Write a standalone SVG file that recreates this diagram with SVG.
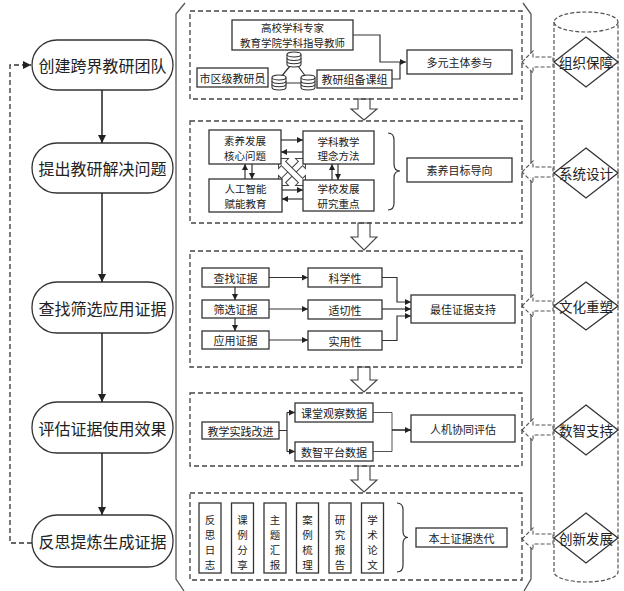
<svg xmlns="http://www.w3.org/2000/svg" xmlns:xlink="http://www.w3.org/1999/xlink" width="624" height="591" viewBox="0 0 624 591">
<style>
text{font-family:"Noto Sans CJK SC","Noto Sans",sans-serif;fill:#222;text-anchor:middle;dominant-baseline:central}
.big{font-size:16px}
.sm{font-size:11px}
.sm2{font-size:10.5px}
.dm{font-size:13.5px}
.box{fill:#fff;stroke:#333;stroke-width:1.3}
.pan{fill:none;stroke:#444;stroke-width:1.3;stroke-dasharray:5,3}
.ln{fill:none;stroke:#333;stroke-width:1.2}
.thin{fill:none;stroke:#555;stroke-width:1}
.flow{fill:none;stroke:#222;stroke-width:1.5}
.hol{fill:#fff;stroke:#444;stroke-width:1.1}
.hold{fill:#fff;stroke:#555;stroke-width:1.1;stroke-dasharray:4,2}
.frame{fill:none;stroke:#555;stroke-width:1.3}
</style>
<defs>
<marker id="ah" viewBox="0 0 10 10" refX="10" refY="5" markerWidth="8" markerHeight="8" markerUnits="userSpaceOnUse" orient="auto"><path d="M0,0L10,5L0,10z" fill="#222"/></marker>
<marker id="as" viewBox="0 0 10 10" refX="10" refY="5" markerWidth="6" markerHeight="6" markerUnits="userSpaceOnUse" orient="auto"><path d="M0,0L10,5L0,10z" fill="#222"/></marker>
<g id="db" fill="#fff" stroke="#333" stroke-width="1.1">
<path d="M0,2.5V12.5A7,2.5 0 0 0 14,12.5V2.5"/>
<ellipse cx="7" cy="2.5" rx="7" ry="2.5"/>
<path d="M0,6A7,2.5 0 0 0 14,6M0,9.3A7,2.5 0 0 0 14,9.3"/>
</g>
<path id="xarr" d="M-19,0L-12,-7V-3H12V-7L19,0L12,7V3H-12V7Z"/>
</defs>

<!-- outer frame -->
<g id="frame">
<polyline class="frame" points="185,3 176,14 176,579 184,591"/>
<polyline class="frame" points="523,3 531,14 531,579 524,591"/>
</g>

<!-- left flow nodes -->
<g id="n1"><rect class="box" x="32" y="40" width="141" height="50" rx="25"/><text class="big" x="102.5" y="65">创建跨界教研团队</text></g>
<g id="n2"><rect class="box" x="32" y="143" width="141" height="50" rx="25"/><text class="big" x="102.5" y="168">提出教研解决问题</text></g>
<g id="n3"><rect class="box" x="32" y="282" width="141" height="51" rx="25"/><text class="big" x="102.5" y="307.5">查找筛选应用证据</text></g>
<g id="n4"><rect class="box" x="32" y="402" width="141" height="51" rx="25"/><text class="big" x="102.5" y="427.5">评估证据使用效果</text></g>
<g id="n5"><rect class="box" x="32" y="515" width="141" height="52" rx="25"/><text class="big" x="102.5" y="541">反思提炼生成证据</text></g>

<g id="connectors">
<line class="flow" x1="102" y1="90" x2="102" y2="143" marker-end="url(#ah)"/>
<line class="flow" x1="102" y1="193" x2="102" y2="282" marker-end="url(#ah)"/>
<line class="flow" x1="102" y1="333" x2="102" y2="402" marker-end="url(#ah)"/>
<line class="flow" x1="102" y1="453" x2="102" y2="515" marker-end="url(#ah)"/>
<path d="M32,543H10V65H31" fill="none" stroke="#333" stroke-width="1.3" stroke-dasharray="5,3" marker-end="url(#ah)"/>
<polygon class="hol" points="358,99 370,99 370,109 377,109 364,120 351,109 358,109"/>
<polygon class="hol" points="358,223 370,223 370,237 377,237 364,250 351,237 358,237"/>
<polygon class="hol" points="358,367 370,367 370,380 377,380 364,392 351,380 358,380"/>
<polygon class="hol" points="358,466 370,466 370,480 377,480 364,492 351,480 358,480"/>
<polygon class="hold" points="522,62 533,51 533,57 553,57 553,67 533,67 533,73"/>
<polygon class="hold" points="522,172 533,161 533,167 553,167 553,177 533,177 533,183"/>
<polygon class="hold" points="522,306 533,295 533,301 553,301 553,311 533,311 533,317"/>
<polygon class="hold" points="522,430 533,419 533,425 553,425 553,435 533,435 533,441"/>
<polygon class="hold" points="522,539 533,528 533,534 553,534 553,544 533,544 533,550"/>
</g>

<!-- panel 1 -->
<g id="p1">
<rect class="pan" x="190" y="11" width="332" height="88"/>
<rect class="box" x="232" y="20" width="121" height="30"/>
<text class="sm2" x="292.5" y="27.5">高校学科专家</text>
<text class="sm2" x="292.5" y="42.5">教育学院学科指导教师</text>
<rect class="box" x="197" y="68" width="71" height="19"/>
<text class="sm" x="232.5" y="77.5">市区级教研员</text>
<rect class="box" x="317" y="70" width="75" height="18"/>
<text class="sm" x="354.5" y="79">教研组备课组</text>
<rect class="box" x="407" y="50" width="105" height="24"/>
<text class="sm" x="459.5" y="62">多元主体参与</text>
<path class="ln" d="M353,35H380V62H406" marker-end="url(#as)"/>
<path class="ln" d="M392,79H400V62"/>
<path class="ln" d="M290,66L281,77M298,66L306,77M286,83H301"/>
<use xlink:href="#db" x="287" y="52"/>
<use xlink:href="#db" x="272" y="75"/>
<use xlink:href="#db" x="301" y="75"/>
</g>

<!-- panel 2 -->
<g id="p2">
<rect class="pan" x="190" y="121" width="332" height="102"/>
<use xlink:href="#xarr" transform="translate(292,172) rotate(-45)" fill="#fff" stroke="#444" stroke-width="1"/>
<use xlink:href="#xarr" transform="translate(292,172) rotate(45)" fill="#fff" stroke="#444" stroke-width="1"/>
<rect class="box" x="209" y="130" width="72" height="34"/>
<text class="sm2" x="245" y="140.5">素养发展</text><text class="sm2" x="245" y="155">核心问题</text>
<rect class="box" x="303" y="131" width="71" height="33"/>
<text class="sm2" x="338.5" y="141">学科教学</text><text class="sm2" x="338.5" y="155.5">理念方法</text>
<rect class="box" x="209" y="179" width="73" height="33"/>
<text class="sm2" x="245.5" y="188.5">人工智能</text><text class="sm2" x="245.5" y="203">赋能教育</text>
<rect class="box" x="303" y="180" width="71" height="31"/>
<text class="sm2" x="338.5" y="188.5">学校发展</text><text class="sm2" x="338.5" y="203">研究重点</text>
<line class="ln" x1="281" y1="140" x2="303" y2="140" marker-end="url(#as)"/>
<line class="ln" x1="303" y1="152" x2="281" y2="152" marker-end="url(#as)"/>
<line class="ln" x1="282" y1="190" x2="303" y2="190" marker-end="url(#as)"/>
<line class="ln" x1="303" y1="199" x2="282" y2="199" marker-end="url(#as)"/>
<line class="ln" x1="245" y1="179" x2="245" y2="164" marker-end="url(#as)"/>
<line class="ln" x1="252" y1="164" x2="252" y2="179" marker-end="url(#as)"/>
<line class="ln" x1="332" y1="180" x2="332" y2="164" marker-end="url(#as)"/>
<line class="ln" x1="338" y1="164" x2="338" y2="180" marker-end="url(#as)"/>
<path class="ln" d="M388,133Q394,133 394,140V164Q394,171 400,171Q394,171 394,178V203Q394,210 388,210"/>
<rect class="box" x="407" y="158" width="105" height="24"/>
<text class="sm" x="459.5" y="170">素养目标导向</text>
</g>

<!-- panel 3 -->
<g id="p3">
<rect class="pan" x="190" y="251" width="332" height="116"/>
<rect class="box" x="202" y="268" width="67" height="19"/><text class="sm" x="235.5" y="277.5">查找证据</text>
<rect class="box" x="202" y="300" width="67" height="18"/><text class="sm" x="235.5" y="309">筛选证据</text>
<rect class="box" x="202" y="331" width="67" height="18"/><text class="sm" x="235.5" y="340">应用证据</text>
<rect class="box" x="308" y="268" width="74" height="19"/><text class="sm" x="345" y="277.5">科学性</text>
<rect class="box" x="308" y="300" width="74" height="19"/><text class="sm" x="345" y="309.5">适切性</text>
<rect class="box" x="308" y="331" width="74" height="19"/><text class="sm" x="345" y="340.5">实用性</text>
<rect class="box" x="411" y="295" width="104" height="28"/><text class="sm" x="463" y="309">最佳证据支持</text>
<line class="ln" x1="235" y1="287" x2="235" y2="300" marker-end="url(#as)"/>
<line class="ln" x1="235" y1="318" x2="235" y2="331" marker-end="url(#as)"/>
<line class="ln" x1="269" y1="277.5" x2="308" y2="277.5" marker-end="url(#as)"/>
<line class="ln" x1="269" y1="309" x2="308" y2="309" marker-end="url(#as)"/>
<line class="ln" x1="269" y1="340" x2="308" y2="340" marker-end="url(#as)"/>
<path class="ln" d="M382,277.5H397V302H411" marker-end="url(#as)"/>
<line class="ln" x1="382" y1="309" x2="411" y2="309" marker-end="url(#as)"/>
<path class="ln" d="M382,340.5H397V316H411" marker-end="url(#as)"/>
</g>

<!-- panel 4 -->
<g id="p4">
<rect class="pan" x="190" y="393" width="332" height="73"/>
<rect class="box" x="202" y="422" width="77" height="17"/><text class="sm" x="240.5" y="430.5">教学实践改进</text>
<rect class="box" x="295" y="403" width="78" height="19"/><text class="sm" x="334" y="412.5">课堂观察数据</text>
<rect class="box" x="295" y="442" width="78" height="19"/><text class="sm" x="334" y="451.5">数智平台数据</text>
<rect class="box" x="411" y="415" width="104" height="27"/><text class="sm" x="463" y="428.5">人机协同评估</text>
<path class="ln" d="M279,430.5H287M287,412.5V451.5"/>
<line class="ln" x1="287" y1="412.5" x2="295" y2="412.5" marker-end="url(#as)"/>
<line class="ln" x1="287" y1="451.5" x2="295" y2="451.5" marker-end="url(#as)"/>
<path class="thin" d="M373,412.5H392V451.5H373"/>
<line class="flow" x1="392" y1="430" x2="411" y2="430" marker-end="url(#as)"/>
</g>

<!-- panel 5 -->
<g id="p5">
<rect class="pan" x="190" y="493" width="332" height="87"/>
<g class="sm2">
<rect class="box" x="199" y="503" width="22" height="70"/>
<text x="210" y="519">反</text><text x="210" y="534">思</text><text x="210" y="549">日</text><text x="210" y="564">志</text>
<rect class="box" x="231.5" y="503" width="22" height="70"/>
<text x="242.5" y="519">课</text><text x="242.5" y="534">例</text><text x="242.5" y="549">分</text><text x="242.5" y="564">享</text>
<rect class="box" x="264" y="503" width="22" height="70"/>
<text x="275" y="519">主</text><text x="275" y="534">题</text><text x="275" y="549">汇</text><text x="275" y="564">报</text>
<rect class="box" x="296.5" y="503" width="22" height="70"/>
<text x="307.5" y="519">案</text><text x="307.5" y="534">例</text><text x="307.5" y="549">梳</text><text x="307.5" y="564">理</text>
<rect class="box" x="329" y="503" width="22" height="70"/>
<text x="340" y="519">研</text><text x="340" y="534">究</text><text x="340" y="549">报</text><text x="340" y="564">告</text>
<rect class="box" x="361.5" y="503" width="22" height="70"/>
<text x="372.5" y="519">学</text><text x="372.5" y="534">术</text><text x="372.5" y="549">论</text><text x="372.5" y="564">文</text>
</g>
<path class="ln" d="M397,503Q403,503 403,510V531Q403,537.5 408,537.5Q403,537.5 403,544V565Q403,572 397,572"/>
<rect class="box" x="416" y="528" width="91" height="19"/><text class="sm" x="461.5" y="537.5">本土证据迭代</text>
</g>

<!-- right pillar -->
<g id="pillar">
<path d="M554,22V572A32,10 0 0 0 618,572V22" fill="none" stroke="#555" stroke-width="1.2" stroke-dasharray="4,2"/>
<ellipse cx="586" cy="22" rx="32" ry="10" fill="none" stroke="#555" stroke-width="1.2" stroke-dasharray="4,2"/>
</g>
<g id="d1"><polygon class="box" points="586,37 618,62 586,87 554,62"/><text class="dm" x="586" y="62">组织保障</text></g>
<g id="d2"><polygon class="box" points="586,148 618,173 586,198 554,173"/><text class="dm" x="586" y="173">系统设计</text></g>
<g id="d3"><polygon class="box" points="586,282 618,306 586,330 554,306"/><text class="dm" x="586" y="306">文化重塑</text></g>
<g id="d4"><polygon class="box" points="586,405 618,430 586,455 554,430"/><text class="dm" x="586" y="430">数智支持</text></g>
<g id="d5"><polygon class="box" points="586,513 618,538 586,563 554,538"/><text class="dm" x="586" y="538">创新发展</text></g>
</svg>
